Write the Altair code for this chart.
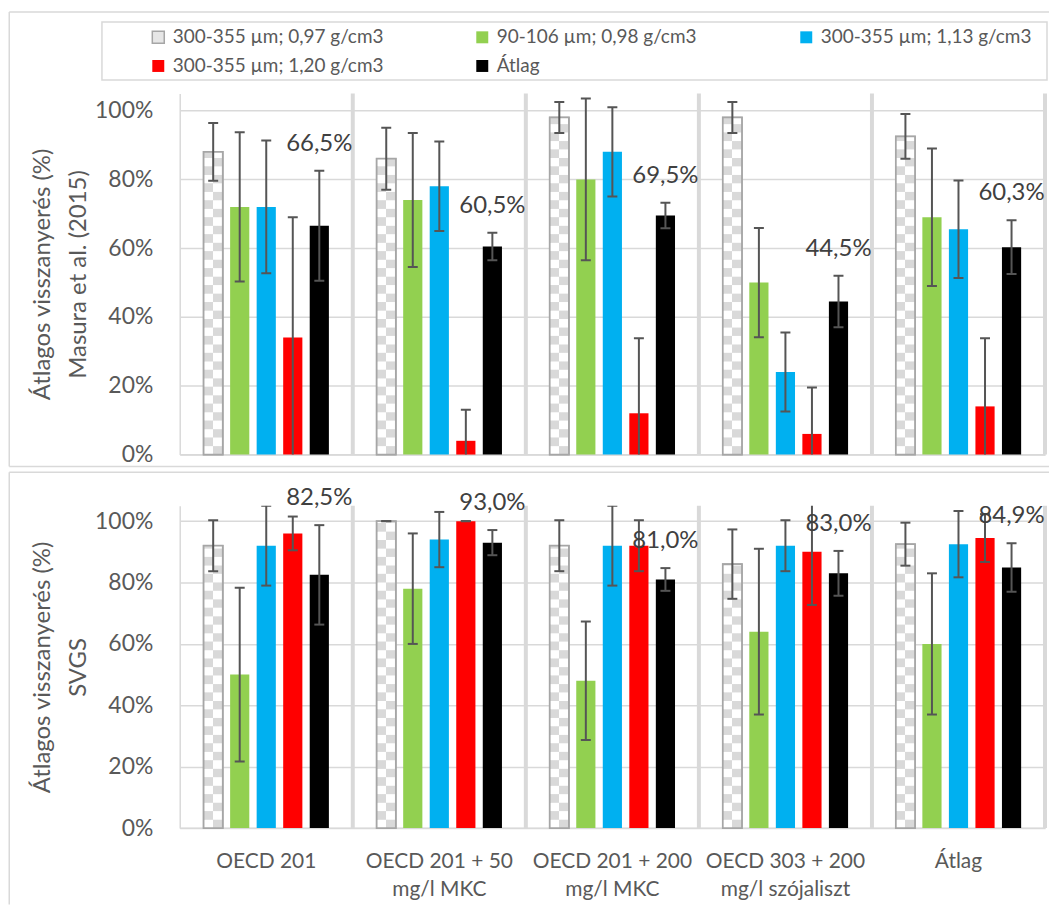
import altair as alt
import pandas as pd

# ---------------- data ----------------
categories = ["OECD 201", "OECD 201 + 50\nmg/l MKC", "OECD 201 + 200\nmg/l MKC",
              "OECD 303 + 200\nmg/l szójaliszt", "Átlag"]
series = ["300-355 µm; 0,97 g/cm3", "90-106 µm; 0,98 g/cm3", "300-355 µm; 1,13 g/cm3",
          "300-355 µm; 1,20 g/cm3", "Átlag"]
colors = ["#e6e6e6", "#92d050", "#00b0f0", "#ff0000", "#000000"]
outlines = ["#a6a6a6", "transparent", "transparent", "transparent", "transparent"]

# Masura et al. (2015) panel: mean recovery (%) per series, over the categories
masura_s1 = [88, 86, 98, 98, 92.5]
masura_s2 = [72, 74, 80, 50, 69]
masura_s3 = [72, 78, 88, 24, 65.5]
masura_s4 = [34, 4, 12, 6, 14]
masura_avg = [66.5, 60.5, 69.5, 44.5, 60.3]
masura_err_s1 = [8.4, 9, 4.5, 4.5, 6.5]
masura_err_s2 = [21.7, 19.5, 23.5, 15.9, 20]
masura_err_s3 = [19.3, 13, 13, 11.5, 14.2]
masura_err_s4 = [35, 9, 21.8, 13.5, 19.8]
masura_err_avg = [16, 4, 3.7, 7.5, 7.8]

# SVGS panel
svgs_s1 = [92, 100, 92, 86, 92.5]
svgs_s2 = [50, 78, 48, 64, 60]
svgs_s3 = [92, 94, 92, 92, 92.5]
svgs_s4 = [96, 100, 92, 90, 94.5]
svgs_avg = [82.5, 93, 81, 83, 84.9]
svgs_err_s1 = [8.3, 0, 8.3, 11.3, 7]
svgs_err_s2 = [28.3, 18, 19.3, 27, 23]
svgs_err_s3 = [13, 9, 13, 8.3, 10.8]
svgs_err_s4 = [5.5, 0, 8.3, 17.3, 7.8]
svgs_err_avg = [16.2, 4.1, 3.7, 7.3, 7.9]


def build_df(vals, errs):
    rows = []
    for s, v_list, e_list in zip(series, vals, errs):
        for c, v, e in zip(categories, v_list, e_list):
            rows.append({"cat": c, "series": s, "value": v, "err": e,
                         "hi": v + e, "lo": v - e})
    return pd.DataFrame(rows)


def checker_df(vals, step):
    # decorative checker pattern rows inside the first series' bars
    rows = []
    for c, v in zip(categories, vals):
        k = 0
        while k * step < v:
            rows.append({"cat": c, "series": series[0], "cy": k * step,
                         "cy2": min((k + 1) * step, v), "par": k % 2})
            k += 1
    return pd.DataFrame(rows)


masura_df = build_df([masura_s1, masura_s2, masura_s3, masura_s4, masura_avg],
                     [masura_err_s1, masura_err_s2, masura_err_s3, masura_err_s4, masura_err_avg])
svgs_df = build_df([svgs_s1, svgs_s2, svgs_s3, svgs_s4, svgs_avg],
                   [svgs_err_s1, svgs_err_s2, svgs_err_s3, svgs_err_s4, svgs_err_avg])

# ---------------- style ----------------
FONT = "Lato"
GRID = "#d9d9d9"
TXT = "#595959"
ERR = "#555555"
W = 868


def grad(first, second):
    return {"gradient": "linear", "x1": 0, "y1": 0, "x2": 1, "y2": 0,
            "stops": [{"offset": 0, "color": first}, {"offset": 0.5, "color": first},
                      {"offset": 0.5, "color": second}, {"offset": 1, "color": second}]}


legend_obj = alt.Legend(
    orient="none", legendX=-31, legendY=-66, direction="horizontal", columns=3,
    title=None, symbolType="square", symbolSize=144, symbolStrokeWidth=1.5,
    labelFontSize=19, labelColor=TXT, labelFont=FONT, columnPadding=89,
    rowPadding=9, gridAlign="all", labelOffset=5, padding=0, labelLimit=400,
)

one = pd.DataFrame({"k": [0]})


def panel(df, cells, height, title_lines, show_labels, with_legend, top_line_y, bottom_line_y, left_bottom):
    xscale = alt.Scale(domain=categories, paddingInner=0, paddingOuter=0)
    if show_labels:
        xaxis = alt.Axis(title=None, ticks=False, domainColor=GRID, domainWidth=1.5,
                         labelFontSize=21, labelColor=TXT, labelFont=FONT, labelPadding=23,
                         labelLineHeight=28, labelAngle=0, labelExpr="split(datum.label, '\\n')",
                         grid=False, labelLimit=300)
    else:
        xaxis = alt.Axis(title=None, ticks=False, labels=False, domainColor=GRID,
                         domainWidth=1.5, grid=False)
    x_enc = alt.X("cat:N", sort=categories, scale=xscale, axis=xaxis)
    yscale = alt.Scale(domain=[0, 105], nice=False, zero=True)
    yaxis = alt.Axis(title=title_lines, values=[0, 20, 40, 60, 80, 100],
                     labelExpr="datum.value + '%'", ticks=False, domainColor=GRID,
                     domainWidth=1.5, gridColor=GRID, gridWidth=1.5, labelFontSize=23,
                     labelColor=TXT, labelFont=FONT, labelPadding=27, titleFont=FONT,
                     titleFontSize=24, titleFontWeight="normal", titleColor=TXT,
                     titleLineHeight=36, titlePadding=4)
    xoff = alt.XOffset("series:N", sort=series,
                       scale=alt.Scale(domain=series, paddingInner=0.277, paddingOuter=0.9))
    leg = legend_obj if with_legend else None
    color = alt.Color("series:N", sort=series, scale=alt.Scale(domain=series, range=colors), legend=leg)
    stroke = alt.Stroke("series:N", sort=series, scale=alt.Scale(domain=series, range=outlines), legend=leg)

    base = alt.Chart(df)
    bars = base.mark_bar(strokeWidth=1.5).encode(
        x=x_enc, xOffset=xoff, y=alt.Y("value:Q", scale=yscale, axis=yaxis),
        color=color, stroke=stroke)

    cbase = alt.Chart(cells)
    cells_a = cbase.transform_filter(alt.datum.par == 0).mark_bar(
        fill=grad("#ffffff", "#d9d9d9"), strokeWidth=0).encode(
        x=x_enc, xOffset=xoff, y=alt.Y("cy:Q", scale=yscale, axis=yaxis), y2="cy2:Q")
    cells_b = cbase.transform_filter(alt.datum.par == 1).mark_bar(
        fill=grad("#d9d9d9", "#ffffff"), strokeWidth=0).encode(
        x=x_enc, xOffset=xoff, y=alt.Y("cy:Q", scale=yscale, axis=yaxis), y2="cy2:Q")
    outline = base.transform_filter(alt.datum.series == series[0]).mark_bar(
        fill="transparent", stroke="#a6a6a6", strokeWidth=1.75).encode(
        x=x_enc, xOffset=xoff, y=alt.Y("value:Q", scale=yscale, axis=yaxis))

    err = base.mark_rule(color=ERR, strokeWidth=2, clip=True).encode(
        x=x_enc, xOffset=xoff, y=alt.Y("lo:Q", scale=yscale, axis=yaxis), y2="hi:Q")
    cap_hi = base.mark_tick(orient="horizontal", size=10, thickness=2, color=ERR,
                            opacity=1, clip=True).encode(
        x=x_enc, xOffset=xoff, y=alt.Y("hi:Q", scale=yscale, axis=yaxis))
    cap_lo = base.mark_tick(orient="horizontal", size=10, thickness=2, color=ERR,
                            opacity=1, clip=True).encode(
        x=x_enc, xOffset=xoff, y=alt.Y("lo:Q", scale=yscale, axis=yaxis))
    labels = base.transform_filter(alt.datum.series == "Átlag").transform_calculate(
        txt="replace(format(datum.value, '.1f'), '.', ',') + '%'"
    ).mark_text(baseline="middle", dy=-27, fontSize=24, color="#404040", font=FONT).encode(
        x=x_enc, xOffset=xoff, y=alt.Y("hi:Q", scale=yscale, axis=yaxis), text="txt:N")

    sep = alt.Chart(pd.DataFrame({"cat": categories[1:]})).mark_rule(
        color=GRID, strokeWidth=4).encode(
        x=alt.X("cat:N", sort=categories, scale=xscale, axis=xaxis, bandPosition=0))
    sep_end = alt.Chart(pd.DataFrame({"cat": categories[-1:]})).mark_rule(
        color=GRID, strokeWidth=4).encode(
        x=alt.X("cat:N", sort=categories, scale=xscale, axis=xaxis, bandPosition=1))

    frame = [
        alt.Chart(one).mark_rule(color=GRID, strokeWidth=1.5).encode(
            x=alt.value(-171), x2=alt.value(872), y=alt.value(top_line_y)),
        alt.Chart(one).mark_rule(color=GRID, strokeWidth=1.5).encode(
            x=alt.value(-171), y=alt.value(top_line_y), y2=alt.value(left_bottom)),
    ]
    if bottom_line_y is not None:
        frame.append(alt.Chart(one).mark_rule(color=GRID, strokeWidth=1.5).encode(
            x=alt.value(-171), x2=alt.value(872), y=alt.value(bottom_line_y)))
    if with_legend:
        frame.append(alt.Chart(one).mark_rect(fillOpacity=0, stroke=GRID, strokeWidth=1.5).encode(
            x=alt.value(-78), x2=alt.value(870), y=alt.value(-71.7), y2=alt.value(-13.4)))

    return alt.layer(*frame, sep, sep_end, bars, cells_a, cells_b, outline,
                     err, cap_hi, cap_lo, labels).properties(width=W, height=height)


CELL_PX = 8.5
top = panel(masura_df, checker_df(masura_s1, CELL_PX / 362.3 * 105), 362.3,
            ["Átlagos visszanyerés (%)", "Masura et al. (2015)"],
            False, True, -81.7, 374.3, 374.3)
bottom = panel(svgs_df, checker_df(svgs_s1, CELL_PX / 323.3 * 105), 323.3,
               ["Átlagos visszanyerés (%)", "SVGS"],
               True, False, -33.7, None, 400)

chart = alt.vconcat(top, bottom, spacing=50.7, bounds="flush").resolve_scale(
    x="independent", y="independent", color="independent", stroke="independent",
    xOffset="independent"
).properties(
    padding={"left": 0.25, "top": 1.25, "right": 0, "bottom": 0}
).configure(font=FONT).configure_view(stroke=None)

chart.save("out.html", embed_options={"renderer": "svg", "actions": False})
